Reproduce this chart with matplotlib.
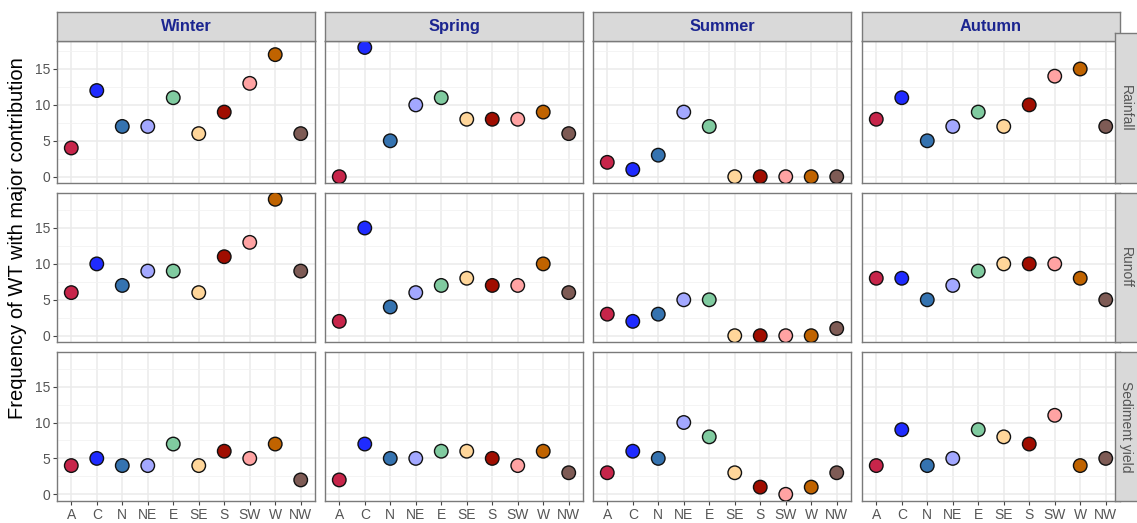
import numpy as np
import matplotlib.pyplot as plt

plt.rcParams["font.family"] = ["Liberation Sans", "DejaVu Sans"]

# weather types and their fill colours
wt = ["A", "C", "N", "NE", "E", "SE", "S", "SW", "W", "NW"]
wt_colors = ["#C7254A", "#1F2BFF", "#3573B0", "#A3A8FF", "#80CBA0",
             "#FFD69A", "#A00D00", "#FFA3A3", "#C06300", "#7E5B55"]

seasons = ["Winter", "Spring", "Summer", "Autumn"]
variables = ["Rainfall", "Runoff", "Sediment yield"]

# frequency of WT with major contribution
rain_winter = [4, 12, 7, 7, 11, 6, 9, 13, 17, 6]
rain_spring = [0, 18, 5, 10, 11, 8, 8, 8, 9, 6]
rain_summer = [2, 1, 3, 9, 7, 0, 0, 0, 0, 0]
rain_autumn = [8, 11, 5, 7, 9, 7, 10, 14, 15, 7]

runoff_winter = [6, 10, 7, 9, 9, 6, 11, 13, 19, 9]
runoff_spring = [2, 15, 4, 6, 7, 8, 7, 7, 10, 6]
runoff_summer = [3, 2, 3, 5, 5, 0, 0, 0, 0, 1]
runoff_autumn = [8, 8, 5, 7, 9, 10, 10, 10, 8, 5]

sed_winter = [4, 5, 4, 4, 7, 4, 6, 5, 7, 2]
sed_spring = [2, 7, 5, 5, 6, 6, 5, 4, 6, 3]
sed_summer = [3, 6, 5, 10, 8, 3, 1, 0, 1, 3]
sed_autumn = [4, 9, 4, 5, 9, 8, 7, 11, 4, 5]

table = [
    [rain_winter, rain_spring, rain_summer, rain_autumn],
    [runoff_winter, runoff_spring, runoff_summer, runoff_autumn],
    [sed_winter, sed_spring, sed_summer, sed_autumn],
]

W, H = 1137, 523
fig = plt.figure(figsize=(W / 100, H / 100), dpi=100)


def px(x0, y0, w, h):
    return [x0 / W, 1 - (y0 + h) / H, w / W, h / H]


# layout in pixels
col_x = [57, 325, 593, 862]
panel_w = 258
row_top = [40.7, 193, 352]
row_bot = [182.7, 342, 501]
row_zero = [176.7, 335.7, 494.3]
unit = 7.18
strip_top = 11.7
rstrip_x = 1115
rstrip_top = [33.3, 193, 352]

border = "#7a7a7a"
txt_grey = "#555555"
x = np.arange(1, len(wt) + 1)

for i, var in enumerate(variables):
    for j, season in enumerate(seasons):
        top, bot, zero = row_top[i], row_bot[i], row_zero[i]
        ax = fig.add_axes(px(col_x[j], top, panel_w, bot - top))
        ax.set_xlim(0.44, 10.56)
        ax.set_ylim(-(bot - zero) / unit, (zero - top) / unit)
        ax.set_yticks([0, 5, 10, 15])
        ax.set_yticks([2.5, 7.5, 12.5, 17.5], minor=True)
        ax.set_xticks(x)
        ax.grid(which="major", color="#EBEBEB", lw=1.1, zorder=0)
        ax.grid(which="minor", axis="y", color="#F2F2F2", lw=0.6, zorder=0)
        ax.set_axisbelow(True)
        ax.scatter(x, table[i][j], s=95, c=wt_colors, edgecolors="#111111",
                   linewidths=1.0, zorder=3)
        for sp in ax.spines.values():
            sp.set_color(border)
            sp.set_linewidth(1.0)
        ax.tick_params(which="minor", length=0)
        ax.tick_params(which="major", length=3, width=0.8, color="#444444",
                       labelsize=10, labelcolor=txt_grey, pad=2)
        if j == 0:
            ax.set_yticklabels(["0", "5", "10", "15"])
        else:
            ax.tick_params(axis="y", length=0, labelleft=False)
        if i == len(variables) - 1:
            ax.set_xticklabels(wt)
        else:
            ax.tick_params(axis="x", length=0, labelbottom=False)

        # season strip on top
        if i == 0:
            sax = fig.add_axes(px(col_x[j], strip_top, panel_w, row_top[0] - strip_top))
            sax.set_facecolor("#D9D9D9")
            sax.set_xticks([])
            sax.set_yticks([])
            for sp in sax.spines.values():
                sp.set_color(border)
                sp.set_linewidth(1.0)
            sax.text(0.5, 0.48, season, ha="center", va="center", fontsize=11.8,
                     fontweight="bold", color="#1B2590", transform=sax.transAxes)

    # variable strip on the right
    rax = fig.add_axes(px(rstrip_x, rstrip_top[i], 30, row_bot[i] - rstrip_top[i]))
    rax.set_facecolor("#D9D9D9")
    rax.set_xticks([])
    rax.set_yticks([])
    for sp in rax.spines.values():
        sp.set_color(border)
        sp.set_linewidth(1.0)
    rax.text(11 / 30, 0.5, var, ha="center", va="center", rotation=-90,
             fontsize=10, color=txt_grey, transform=rax.transAxes)

fig.text(18 / W, 1 - 238 / H, "Frequency of WT with major contribution",
         rotation=90, ha="center", va="center", fontsize=14.5, color="black")

fig.savefig("out.png", dpi=100)
